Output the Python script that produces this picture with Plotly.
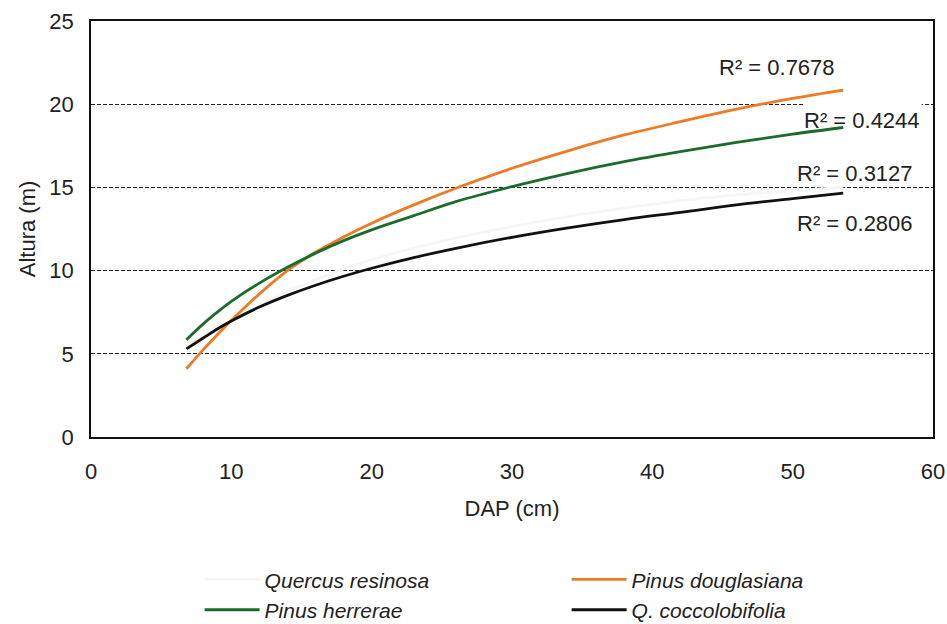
import plotly.graph_objects as go

# DAP (cm) sample points along the fitted curves
dap = [6.8, 8, 9, 10, 12, 14, 16, 18, 20, 23, 26, 30, 34, 38, 42, 46, 50, 53.6]

# Altura (m)
quercus_resinosa = [5.4, 6.1, 6.6, 7.05, 7.95, 8.75, 9.45, 10.1, 10.65, 11.35, 11.95,
                    12.65, 13.25, 13.75, 14.2, 14.55, 14.8, 15.0]
pinus_douglasiana = [4.1, 5.25, 6.15, 7.0, 8.6, 10.0, 11.1, 12.02, 12.85, 13.95, 14.95,
                     16.15, 17.2, 18.15, 18.95, 19.7, 20.35, 20.85]
pinus_herrerae = [5.85, 6.8, 7.5, 8.15, 9.25, 10.2, 11.05, 11.8, 12.45, 13.3, 14.15,
                  15.05, 15.85, 16.55, 17.15, 17.7, 18.2, 18.6]
q_coccolobifolia = [5.3, 5.95, 6.49, 6.97, 7.81, 8.51, 9.12, 9.66, 10.14, 10.78, 11.34,
                    12.0, 12.57, 13.07, 13.5, 13.95, 14.33, 14.65]

series_names = ["Quercus resinosa", "Pinus douglasiana", "Pinus herrerae", "Q. coccolobifolia"]
series_values = [quercus_resinosa, pinus_douglasiana, pinus_herrerae, q_coccolobifolia]
series_colors = ["#f5f5f5", "#f07a23", "#1b6b2b", "#111111"]

r2_labels = ["R² = 0.7678", "R² = 0.4244", "R² = 0.3127", "R² = 0.2806"]
r2_x = [48.9, 59.2, 58.75, 58.75]
r2_y = [22.2, 19.05, 15.85, 12.85]
r2_anchor = ["center", "right", "right", "right"]

x_ticks = [0, 10, 20, 30, 40, 50, 60]
y_ticks = [0, 5, 10, 15, 20, 25]

FONT = "Liberation Sans, Arial, sans-serif"

fig = go.Figure()
for name, vals, col in zip(series_names, series_values, series_colors):
    fig.add_trace(go.Scatter(x=dap, y=vals, mode="lines", name=name,
                             line=dict(color=col, width=2.8, shape="spline")))

for txt, xx, yy, anc in zip(r2_labels, r2_x, r2_y, r2_anchor):
    fig.add_annotation(x=xx, y=yy, xref="x", yref="y", text=txt, showarrow=False,
                       xanchor=anc, yanchor="middle",
                       font=dict(family=FONT, size=22, color="#222"))

# white label box of the "R² = 0.4244" text hides the gridline behind it
fig.add_shape(type="rect", layer="between", xref="x", yref="y",
              x0=r2_x[1] - 8.35, x1=r2_x[1], y0=19.7, y1=20.3,
              fillcolor="white", line=dict(width=0))

fig.update_layout(
    width=947, height=624,
    margin=dict(l=91, r=14, t=21, b=187, autoexpand=False),
    paper_bgcolor="white", plot_bgcolor="white",
    font=dict(family=FONT, size=22, color="#222"),
    showlegend=True,
    legend=dict(orientation="h", x=0.129, xanchor="left", y=-0.294, yanchor="top",
                font=dict(family=FONT, size=21, color="#222", style="italic"),
                entrywidth=297, entrywidthmode="pixels", itemwidth=55,
                bgcolor="rgba(0,0,0,0)", tracegroupgap=0),
    xaxis=dict(range=[0, 60], tickvals=x_ticks, showgrid=False, zeroline=False,
               showline=True, linecolor="#111", linewidth=1.5, mirror=True,
               ticks="", ticklabelstandoff=14,
               title=dict(text="DAP (cm)", font=dict(size=22), standoff=17)),
    yaxis=dict(range=[0, 25], tickvals=y_ticks, showgrid=True, gridcolor="#222",
               griddash="4px,2px", gridwidth=1, zeroline=False,
               showline=True, linecolor="#111", linewidth=1.5, mirror=True,
               ticks="", ticklabelstandoff=11,
               title=dict(text="Altura (m)", font=dict(size=22), standoff=8)),
)

fig.write_html("out.html")
